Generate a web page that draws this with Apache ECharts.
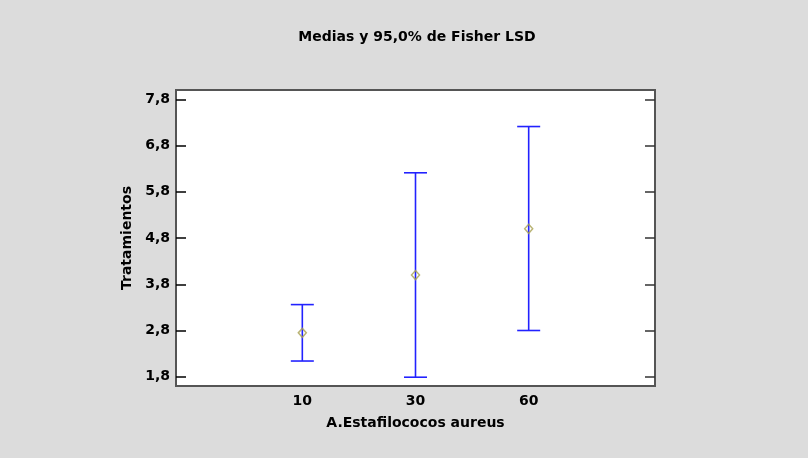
<!DOCTYPE html>
<html>
<head>
<meta charset="utf-8">
<script src="https://cdn.jsdelivr.net/npm/echarts@6/dist/echarts.min.js"></script>
<style>
  html, body { margin: 0; padding: 0; background: #dcdcdc; }
  #chart { width: 808px; height: 458px; }
</style>
</head>
<body>
<div id="chart"></div>
<script>
// Niveles del factor (A. Estafilococos aureus)
const categories = ['10', '30', '60'];
// Medias de los tratamientos
const means = [2.75, 4.0, 5.0];
// Límites inferior y superior del intervalo LSD de Fisher al 95%
const lower = [2.14, 1.79, 2.80];
const upper = [3.36, 6.21, 7.21];
// Marcas del eje Y
const yTicks = [1.8, 2.8, 3.8, 4.8, 5.8, 6.8, 7.8];

const fmtComma = v => v.toFixed(1).replace('.', ',');
const FONT = 'DejaVu Sans';
const textStyle = { fontFamily: FONT, fontSize: 14, fontWeight: 'bold', color: '#000' };

const idx = categories.map((c, i) => i);
const intervalData = idx.map(i => [i, lower[i], upper[i]]);
const meanData = idx.map(i => [i, means[i]]);

const chart = echarts.init(document.getElementById('chart'), null, { renderer: 'canvas' });

chart.setOption({
  backgroundColor: '#dcdcdc',
  animation: false,
  title: {
    text: 'Medias y 95,0% de Fisher LSD',
    left: 412,
    top: 25,
    textAlign: 'center',
    textStyle: textStyle
  },
  grid: {
    left: 176, right: 153, top: 90, bottom: 72,
    show: true,
    backgroundColor: '#ffffff',
    borderColor: '#555555',
    borderWidth: 2
  },
  xAxis: {
    type: 'value',
    min: -1.116,
    max: 3.116,
    name: 'A.Estafilococos aureus',
    nameLocation: 'middle',
    nameGap: 30,
    nameTextStyle: textStyle,
    axisLine: { show: false, onZero: false },
    axisTick: { show: false },
    splitLine: { show: false },
    axisLabel: Object.assign({
      customValues: idx,
      formatter: v => categories[Math.round(v)],
      margin: 8
    }, textStyle)
  },
  yAxis: [{
    type: 'value',
    position: 'left',
    min: 1.6,
    max: 8.0,
    name: 'Tratamientos',
    nameLocation: 'middle',
    nameGap: 40,
    nameRotate: 90,
    nameTextStyle: textStyle,
    axisLine: { show: false, onZero: false },
    splitLine: { show: false },
    axisTick: {
      show: true, inside: true, length: 10,
      customValues: yTicks,
      lineStyle: { color: '#000', width: 1.5 }
    },
    axisLabel: Object.assign({
      customValues: yTicks,
      formatter: fmtComma,
      margin: 6
    }, textStyle)
  }, {
    type: 'value',
    position: 'right',
    min: 1.6,
    max: 8.0,
    axisLine: { show: false, onZero: false },
    splitLine: { show: false },
    axisLabel: { show: false },
    axisTick: {
      show: true, inside: true, length: 10,
      customValues: yTicks,
      lineStyle: { color: '#333', width: 1.5 }
    }
  }],
  series: [{
    type: 'custom',
    name: 'LSD',
    data: intervalData,
    z: 2,
    renderItem: function (params, api) {
      const x = api.value(0);
      const lo = api.coord([x, api.value(1)]);
      const hi = api.coord([x, api.value(2)]);
      const half = 11.5;
      const style = { stroke: '#2222ff', lineWidth: 1.6 };
      return {
        type: 'group',
        children: [
          { type: 'line', shape: { x1: lo[0], y1: lo[1], x2: hi[0], y2: hi[1] }, style },
          { type: 'line', shape: { x1: hi[0] - half, y1: hi[1], x2: hi[0] + half, y2: hi[1] }, style },
          { type: 'line', shape: { x1: lo[0] - half, y1: lo[1], x2: lo[0] + half, y2: lo[1] }, style }
        ]
      };
    }
  }, {
    type: 'scatter',
    name: 'Media',
    data: meanData,
    z: 3,
    symbol: 'diamond',
    symbolSize: [8, 9],
    itemStyle: { color: 'rgba(0,0,0,0)', borderColor: '#a8a050', borderWidth: 1.5 }
  }]
});
</script>
</body>
</html>
